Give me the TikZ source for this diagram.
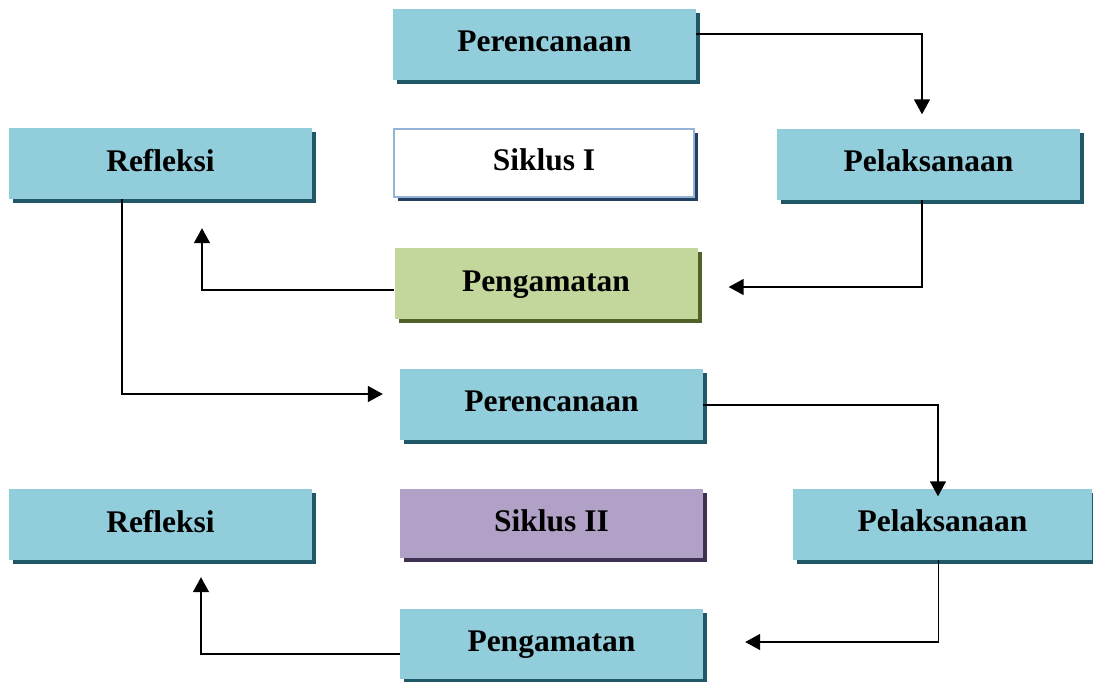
\documentclass[tikz,border=0pt]{standalone}
\usepackage{fontspec}
\setmainfont{Liberation Serif}
\usetikzlibrary{positioning, arrows.meta, shadows}

\definecolor{boxblue}{HTML}{92CDDC}
\definecolor{shblue}{HTML}{215868}
\definecolor{boxgreen}{HTML}{C3D69B}
\definecolor{shgreen}{HTML}{4F6228}
\definecolor{boxpurple}{HTML}{B2A1C7}
\definecolor{shpurple}{HTML}{3F3151}
\definecolor{lineblue}{HTML}{95B3D7}
\definecolor{shnavy}{HTML}{243F60}

\begin{document}
\begin{tikzpicture}[x=1pt, y=-1pt,
  stage/.style={rectangle, minimum width=303pt, minimum height=71pt, inner sep=0pt,
    text height=21.5pt, text depth=6pt,
    font=\fontsize{31.5}{36}\selectfont\bfseries,
    drop shadow={shadow xshift=4pt, shadow yshift=-4pt, opacity=1, fill=#1}},
  stage/.default=shblue,
  blue/.style={stage=shblue, fill=boxblue},
  green/.style={stage=shgreen, fill=boxgreen},
  purple/.style={stage=shpurple, fill=boxpurple},
  cycle/.style={stage=shnavy, fill=white, draw=lineblue, line width=2pt},
  flow/.style={line width=1.5pt, -{Triangle[length=15pt, width=16pt]}}]
  \useasboundingbox (0,0) rectangle (1093,681);

  % siklus I
  \node[blue] (per1) at (544.5,44) {Perencanaan};
  \node[blue] (ref1) at (160.5,163.5) {Refleksi};
  \node[cycle, minimum width=300pt, minimum height=68pt] (sik1) at (544,163) {Siklus I};
  \node[blue] (pel1) at (928.5,164) {Pelaksanaan};
  \node[green] (pen1) at (546,283.5) {Pengamatan};

  % siklus II
  \node[blue] (per2) at (551.5,404) {Perencanaan};
  \node[blue] (ref2) at (160.5,524.5) {Refleksi};
  \node[purple, minimum height=69pt] (sik2) at (551.5,523.5) {Siklus II};
  \node[blue, minimum width=299pt] (pel2) at (942.5,524) {Pelaksanaan};
  \node[blue, minimum height=70pt] (pen2) at (551.5,644) {Pengamatan};

  \draw[flow, shorten >=14pt] ([yshift=10pt]per1.east) -| ([xshift=-6.5pt]pel1.north);
  \draw[flow, shorten >=31pt] ([xshift=-6.5pt]pel1.south) |- ([yshift=-3.5pt]pen1.east);
  \draw[flow, shorten >=29pt] ([yshift=-6.5pt]pen1.west) -| ([xshift=41.5pt]ref1.south);
  \draw[flow, shorten >=17pt] ([xshift=-38.5pt]ref1.south) |- ([yshift=10pt]per2.west);
  \draw[flow, shorten >=-8pt] ([yshift=-1pt]per2.east) -| ([xshift=-4.5pt]pel2.north);
  \draw[flow, shorten >=42pt] ([xshift=-4pt]pel2.south) |- ([yshift=2pt]pen2.east);
  \draw[flow, shorten >=17pt] ([yshift=-10pt]pen2.west) -| ([xshift=40.5pt]ref2.south);
\end{tikzpicture}
\end{document}
